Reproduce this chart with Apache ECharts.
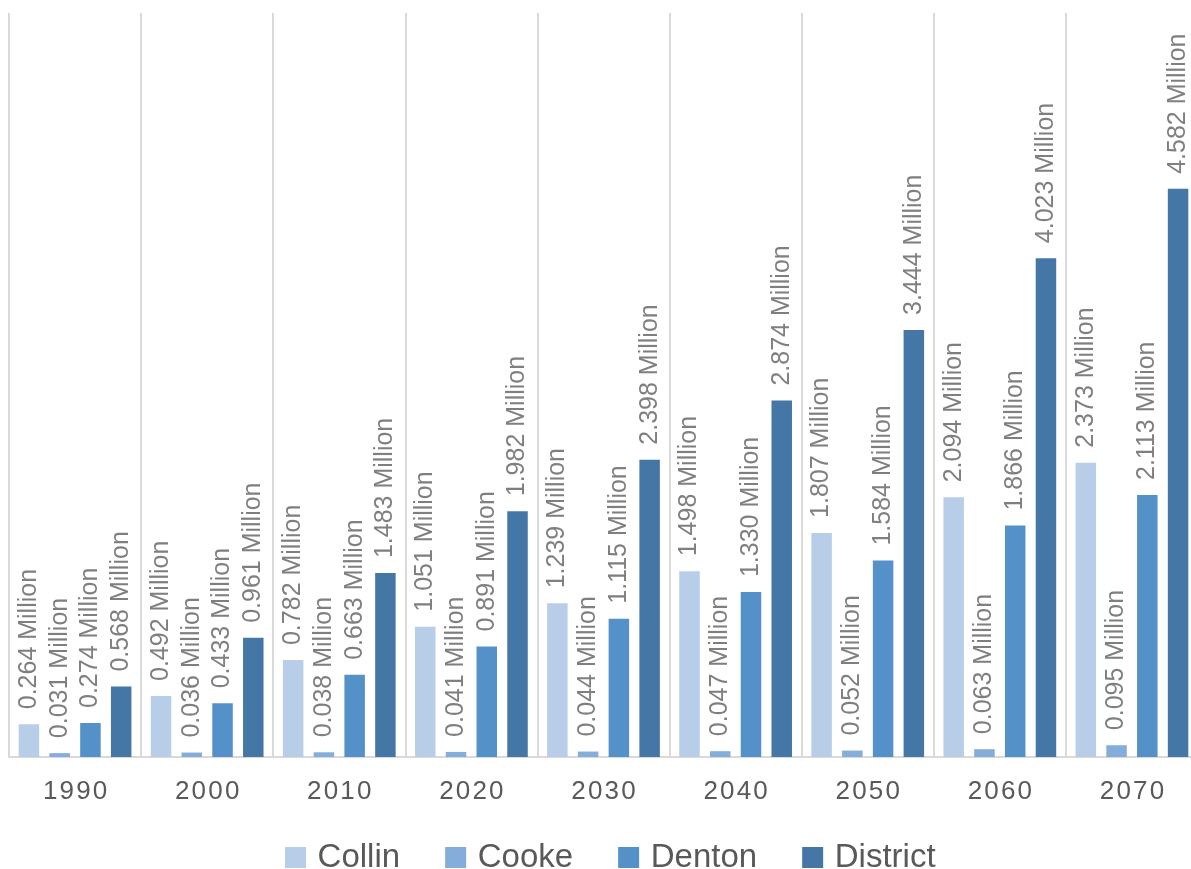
<!DOCTYPE html>
<html>
<head>
<meta charset="utf-8">
<script src="https://cdn.jsdelivr.net/npm/echarts@6/dist/echarts.min.js"></script>
<style>html,body{margin:0;padding:0;background:#fff;overflow:hidden;}#c{width:1200px;height:869px;}</style>
</head>
<body>
<div id="c"></div>
<script>
const categories = ['1990','2000','2010','2020','2030','2040','2050','2060','2070'];
const seriesNames = ['Collin','Cooke','Denton','District'];
const collin = [0.264, 0.492, 0.782, 1.051, 1.239, 1.498, 1.807, 2.094, 2.373];
const cooke = [0.031, 0.036, 0.038, 0.041, 0.044, 0.047, 0.052, 0.063, 0.095];
const denton = [0.274, 0.433, 0.663, 0.891, 1.115, 1.330, 1.584, 1.866, 2.113];
const district = [0.568, 0.961, 1.483, 1.982, 2.398, 2.874, 3.444, 4.023, 4.582];
const colors = ['#b7cde8', '#84addc', '#5391c8', '#4577a6'];
const allData = [collin, cooke, denton, district];

const chart = echarts.init(document.getElementById('c'), null, {renderer: 'canvas'});
const font = '"Liberation Sans", Arial, sans-serif';
chart.setOption({
  animation: false,
  color: colors,
  grid: {left: 9, top: 13, width: 1189, bottom: 112, containLabel: false},
  legend: {
    data: seriesNames,
    top: 841,
    left: 285,
    padding: 0,
    itemWidth: 21,
    itemHeight: 21,
    itemGap: 45,
    icon: 'rect',
    formatter: n => '\u2009' + n,
    textStyle: {fontFamily: font, fontSize: 33, color: '#595959'}
  },
  xAxis: {
    type: 'category',
    data: categories,
    axisLine: {lineStyle: {color: '#d9d9d9', width: 2}},
    axisTick: {show: false},
    splitLine: {show: true, lineStyle: {color: '#d9d9d9', width: 2}},
    axisLabel: {
      fontFamily: font, fontSize: 26, color: '#595959', margin: 22,
      formatter: v => v.split('').join('\u200A')
    }
  },
  yAxis: {
    type: 'value', min: 0, max: 6, interval: 1, show: false,
    splitLine: {show: false}
  },
  series: seriesNames.map((name, i) => ({
    name,
    type: 'bar',
    data: allData[i],
    barWidth: 20.5,
    barGap: '50%',
    itemStyle: {color: colors[i]},
    label: {
      show: true,
      position: 'top',
      rotate: 90,
      align: 'left',
      verticalAlign: 'middle',
      distance: 15,
      fontFamily: font,
      fontSize: 25,
      color: '#7f7f7f',
      formatter: p => p.value.toFixed(3) + ' Million'
    }
  }))
});
</script>
</body>
</html>
